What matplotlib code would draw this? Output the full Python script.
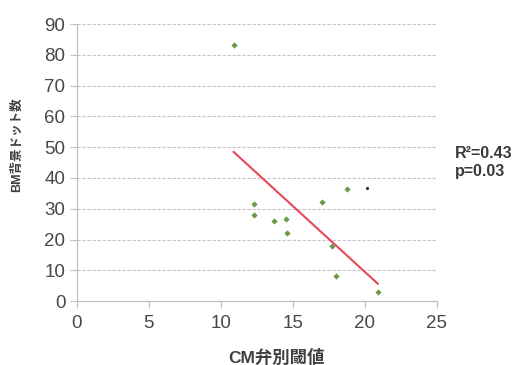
import numpy as np
import matplotlib
matplotlib.use("Agg")
import matplotlib.pyplot as plt

# CM threshold vs BM background dot count
cm_thresh = [10.9, 12.3, 12.3, 13.7, 14.5, 14.6, 17.0, 18.8, 17.7, 18.0, 20.9]
bm_dots = [83.3, 31.7, 28.0, 26.1, 26.6, 22.1, 32.2, 36.5, 17.9, 8.3, 3.0]
stray_x = [20.15]
stray_y = [36.7]

xticks = [0, 5, 10, 15, 20, 25]
yticks = [0, 10, 20, 30, 40, 50, 60, 70, 80, 90]
stats_text = "R²=0.43\np=0.03"

latin_cjk = ["Liberation Sans", "Noto Sans CJK JP", "DejaVu Sans"]
plt.rcParams["font.family"] = latin_cjk

fig = plt.figure(figsize=(5.17, 3.65), dpi=100)
ax = fig.add_axes([0.148, 0.175, 0.697, 0.759])

grid_col = "#cdbfcd"
ax.set_xlim(0, 25)
ax.set_ylim(0, 90)
ax.set_xticks(xticks)
ax.set_yticks(yticks)
ax.yaxis.grid(True, color=grid_col, linestyle=(0, (3, 1.5)), linewidth=0.8)
ax.set_axisbelow(True)

for side in ("top", "right"):
    ax.spines[side].set_visible(False)
for side in ("left", "bottom"):
    ax.spines[side].set_color("#c4bccc")
    ax.spines[side].set_linewidth(0.9)

ax.tick_params(axis="both", colors="#c4bccc", labelcolor="#484848",
               labelsize=13.5, length=5, width=0.8)
ax.tick_params(axis="x", pad=5)
ax.tick_params(axis="y", pad=3)

# least squares trend line over data range
slope, icpt = np.polyfit(cm_thresh, bm_dots, 1)
xs = np.array([min(cm_thresh), max(cm_thresh)])
ax.plot(xs, slope * xs + icpt, color="#e8485a", linewidth=1.5, zorder=2)

ax.plot(cm_thresh, bm_dots, linestyle="none", marker="D", markersize=3.2,
        color="#6c9a48", markeredgewidth=0, zorder=3)
ax.plot(stray_x, stray_y, linestyle="none", marker="o", markersize=1.2,
        color="#222222", zorder=3)

ax.text(0.555, -0.202, "CM弁別閾値", transform=ax.transAxes,
        fontsize=12.5, fontweight="bold", color="#404040",
        ha="center", va="center")
ax.text(-0.165, 0.565, "BM背景ドット数", transform=ax.transAxes,
        fontsize=9, fontweight="bold", color="#404040",
        ha="center", va="center", rotation=90)

fig.text(0.88, 0.555, stats_text, fontsize=11.5, fontweight="bold",
         color="#3a3a3a", ha="left", va="center", linespacing=1.2)

fig.savefig("out.png", dpi=100)
